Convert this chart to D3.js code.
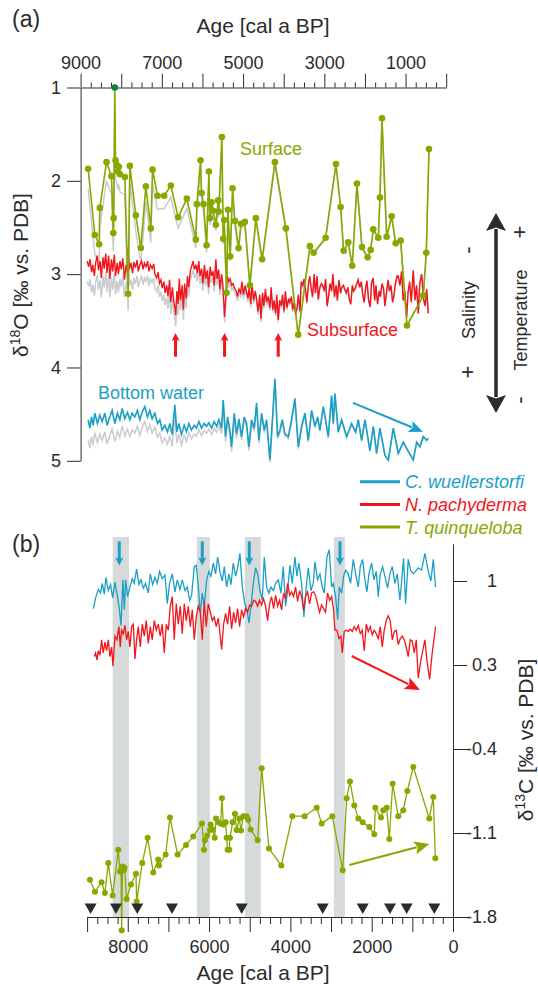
<!DOCTYPE html>
<html>
<head>
<meta charset="utf-8">
<script src="https://cdn.jsdelivr.net/npm/d3@7"></script>
<style>
  body { margin: 0; background: #fff; }
  svg text { font-family: "Liberation Sans", Arial, Helvetica, sans-serif; fill: #2b2b2b; }
</style>
</head>
<body>
<div id="chart"></div>
<script>
// ---- data: [age cal a BP, value] ----
// d18O, T. quinqueloba (surface)
const surfaceO18 = [
  [8815,1.87],[8650,2.58],[8544,2.68],[8527,2.29],[8362,1.80],[8239,1.95],[8195,2.56],[8185,2.40],
  [8158,1.00],[8140,1.78],[8110,1.83],[8085,1.90],[8060,1.85],[8030,1.93],[7911,1.96],[7830,3.21],
  [7788,1.84],[7640,2.37],[7517,2.72],[7394,2.06],[7271,2.51],[7229,1.88],[7106,2.16],[6943,2.16],
  [6778,2.05],[6599,2.39],[6384,2.19],[6163,2.63],[6138,2.25],[6047,1.78],[6022,2.13],[5973,2.25],
  [5899,2.69],[5842,1.90],[5818,2.40],[5776,2.23],[5736,2.32],[5670,2.47],[5613,2.21],[5600,2.33],
  [5522,1.53],[5490,2.62],[5465,2.42],[5406,3.20],[5374,2.31],[5318,2.81],[5259,2.08],[5202,2.43],
  [5111,2.72],[5054,2.46],[4956,2.44],[4833,3.12],[4685,2.40],[4530,2.84],[4217,1.80],[3946,2.51],
  [3643,3.65],[3355,2.70],[3264,2.77],[2968,2.61],[2714,1.82],[2599,2.28],[2525,2.75],[2411,2.66],
  [2313,2.91],[2197,2.03],[2074,2.71],[1934,2.82],[1860,2.74],[1796,2.52],[1672,2.61],[1631,2.18],
  [1581,1.33],[1466,2.60],[1342,2.38],[1244,2.67],[1121,2.64],[966,3.55],[564,3.23],[490,2.77],[424,1.66]
];
// d18O, N. pachyderma (subsurface)
const subsurfaceO18 = [
  [8840,2.86],[8800,2.92],[8770,2.84],[8730,2.98],[8700,2.90],[8660,3.02],[8630,2.88],[8590,2.80],
  [8560,2.96],[8520,2.86],[8490,3.04],[8450,2.82],[8420,2.94],[8380,2.78],[8350,2.99],[8310,2.80],
  [8280,3.05],[8240,2.84],[8210,2.97],[8170,2.79],[8140,3.02],[8100,2.88],[8070,3.00],[8030,2.86],
  [8000,2.95],[7960,2.83],[7920,3.06],[7880,2.90],[7850,2.98],[7830,2.71],[7800,2.95],[7760,2.88],
  [7720,2.99],[7690,2.87],[7650,2.93],[7610,2.85],[7580,2.97],[7540,2.90],[7500,2.86],[7460,2.95],
  [7430,2.88],[7390,2.92],[7350,2.86],[7320,2.97],[7280,2.90],[7240,2.94],[7200,2.89],[7170,3.00],
  [7130,3.04],[7090,2.98],[7060,3.10],[7020,3.06],[6990,3.15],[6950,3.08],[6920,3.20],[6880,3.12],
  [6850,3.24],[6810,3.06],[6780,3.30],[6740,3.14],[6710,3.28],[6680,3.36],[6660,3.44],[6630,3.18],
  [6600,3.32],[6570,3.05],[6540,3.28],[6500,3.12],[6470,3.38],[6440,3.10],[6400,3.26],[6370,3.02],
  [6340,3.14],[6300,2.97],[6270,2.92],[6230,2.86],[6200,2.95],[6160,2.90],[6130,2.99],[6090,2.86],
  [6060,3.02],[6020,2.94],[5990,3.10],[5950,2.90],[5920,3.05],[5880,2.96],[5850,3.14],[5810,2.92],
  [5780,3.02],[5740,2.97],[5710,3.12],[5670,2.84],[5640,3.05],[5600,2.95],[5570,3.16],[5530,3.00],
  [5500,3.10],[5456,3.46],[5420,3.20],[5390,3.02],[5350,3.08],[5320,3.05],[5280,3.12],[5250,3.10],
  [5210,3.15],[5170,3.18],[5140,3.24],[5100,3.16],[5060,3.20],[5030,3.08],[4990,3.22],[4950,3.12],
  [4920,3.18],[4880,3.26],[4850,3.14],[4810,3.32],[4780,3.10],[4740,3.28],[4700,3.18],[4670,3.26],
  [4630,3.40],[4590,3.22],[4560,3.48],[4520,3.20],[4490,3.34],[4450,3.16],[4420,3.30],[4380,3.24],
  [4340,3.36],[4310,3.14],[4270,3.38],[4240,3.28],[4200,3.42],[4170,3.22],[4135,3.49],[4100,3.28],
  [4060,3.34],[4030,3.22],[3990,3.40],[3960,3.18],[3920,3.36],[3880,3.26],[3850,3.30],[3810,3.24],
  [3780,3.38],[3740,3.30],[3710,3.42],[3670,3.36],[3640,3.22],[3600,3.40],[3570,3.08],[3530,3.12],
  [3500,3.05],[3460,3.18],[3430,3.30],[3390,3.10],[3360,3.02],[3320,3.16],[3290,3.24],[3250,3.00],
  [3220,3.20],[3180,3.02],[3150,3.27],[3110,3.14],[3070,3.10],[3040,3.12],[3000,3.18],[2970,3.05],
  [2930,3.34],[2890,3.22],[2860,3.10],[2820,3.18],[2790,3.00],[2750,3.24],[2710,3.12],[2680,3.28],
  [2640,3.06],[2600,3.20],[2570,3.14],[2530,3.12],[2500,3.16],[2460,3.20],[2420,3.14],[2390,3.26],
  [2350,3.32],[2310,3.12],[2280,3.18],[2240,3.15],[2200,3.10],[2170,3.06],[2130,3.14],[2090,3.08],
  [2060,3.20],[2020,3.30],[1980,3.14],[1950,3.07],[1910,3.28],[1870,3.35],[1840,3.10],[1800,3.04],
  [1760,3.28],[1730,3.12],[1690,3.32],[1650,3.18],[1620,3.24],[1580,3.10],[1540,3.16],[1510,3.34],
  [1470,3.20],[1430,3.06],[1400,3.18],[1360,3.12],[1320,3.30],[1290,3.24],[1250,3.10],[1210,3.02],
  [1180,3.02],[1140,3.12],[1097,2.97],[1060,3.28],[1020,3.18],[973,3.46],[940,3.20],[900,3.08],
  [860,3.30],[810,2.96],[770,3.28],[730,3.12],[687,3.42],[650,3.10],[604,3.00],[560,3.26],
  [520,3.34],[480,3.16],[441,3.42]
];
// d18O, C. wuellerstorfi (bottom water)
const bottomO18 = [
  [8814,4.56],[8773,4.65],[8732,4.53],[8691,4.62],[8650,4.49],[8585,4.60],[8527,4.51],[8470,4.58],
  [8404,4.49],[8347,4.62],[8281,4.53],[8224,4.46],[8158,4.60],[8093,4.49],[8035,4.56],[7978,4.44],
  [7912,4.55],[7846,4.48],[7789,4.56],[7732,4.49],[7666,4.53],[7600,4.46],[7543,4.56],[7485,4.48],
  [7419,4.42],[7354,4.53],[7296,4.46],[7239,4.55],[7173,4.49],[7107,4.60],[7050,4.56],[6993,4.67],
  [6927,4.62],[6861,4.69],[6804,4.60],[6746,4.72],[6680,4.40],[6631,4.69],[6582,4.60],[6516,4.72],
  [6450,4.62],[6393,4.69],[6335,4.60],[6270,4.67],[6204,4.62],[6146,4.65],[6089,4.58],[6023,4.65],
  [5957,4.60],[5900,4.63],[5842,4.59],[5776,4.65],[5711,4.58],[5653,4.63],[5596,4.56],[5530,4.65],
  [5489,4.35],[5432,4.74],[5382,4.53],[5325,4.67],[5284,4.85],[5218,4.49],[5161,4.71],[5103,4.55],
  [5037,4.74],[4972,4.53],[4914,4.60],[4857,4.85],[4791,4.56],[4725,4.65],[4668,4.38],[4610,4.78],
  [4545,4.49],[4479,4.67],[4421,4.56],[4339,4.99],[4216,4.12],[4150,4.74],[4093,4.67],[4036,4.56],
  [3970,4.71],[3888,4.74],[3806,4.56],[3724,4.33],[3641,4.85],[3559,4.63],[3477,4.49],[3395,4.78],
  [3313,4.46],[3231,4.63],[3166,4.53],[3108,4.67],[3026,4.42],[2969,4.56],[2903,4.74],[2821,4.30],
  [2780,4.60],[2739,4.28],[2657,4.69],[2575,4.56],[2451,4.74],[2328,4.60],[2230,4.69],[2164,4.56],
  [2082,4.78],[2000,4.56],[1877,4.89],[1795,4.63],[1713,4.92],[1631,4.65],[1508,4.94],[1425,4.99],
  [1302,4.65],[1179,4.92],[1056,4.80],[933,4.90],[810,4.99],[728,4.80],[646,4.85],[564,4.74],
  [482,4.78],[441,4.76]
];
// ice-volume offset between grey (uncorrected) and coloured d18O curves
const iceVolumeOffset = [[9000,0.22],[8000,0.19],[7000,0.14],[6000,0.08],[5000,0.04],[4000,0.025],[3000,0.015],[2000,0.01],[0,0]];

// d13C, C. wuellerstorfi
const wuellC13 = [
  [8848,0.77],[8790,0.86],[8725,0.93],[8668,0.90],[8627,0.98],[8577,0.89],[8536,1.03],[8479,0.92],
  [8422,0.97],[8372,0.86],[8315,0.99],[8258,0.88],[8208,0.77],[8167,0.63],[8118,1.01],[8085,0.76],
  [8053,1.01],[8003,0.87],[7946,0.95],[7889,1.02],[7840,0.98],[7782,1.10],[7725,0.97],[7676,1.01],
  [7618,0.94],[7561,0.98],[7495,0.90],[7446,1.06],[7389,0.97],[7331,1.03],[7274,0.98],[7217,1.08],
  [7151,1.02],[7085,1.05],[7028,0.81],[6971,0.98],[6905,1.06],[6839,0.91],[6782,1.01],[6717,0.93],
  [6659,1.01],[6593,0.92],[6536,0.95],[6479,0.84],[6429,0.88],[6364,1.12],[6315,1.13],[6265,0.95],
  [6216,0.73],[6167,0.90],[6118,0.79],[6060,1.01],[6003,1.08],[5954,1.04],[5897,1.15],[5839,1.06],
  [5790,1.20],[5733,1.08],[5675,1.00],[5626,1.12],[5569,0.95],[5511,1.06],[5462,0.97],[5405,1.15],
  [5347,1.04],[5298,1.11],[5241,1.23],[5183,0.95],[5118,0.81],[5068,0.76],[5019,0.65],[4970,0.79],
  [4913,0.98],[4855,1.11],[4806,1.06],[4749,0.92],[4691,0.84],[4642,1.20],[4585,0.95],[4528,0.90],
  [4478,0.95],[4421,0.92],[4364,0.98],[4298,1.01],[4232,0.90],[4175,1.12],[4117,0.79],[4068,0.92],
  [4011,1.13],[3954,0.98],[3888,1.20],[3839,1.04],[3790,1.15],[3724,0.98],[3667,0.70],[3610,0.95],
  [3560,1.11],[3495,0.92],[3437,0.98],[3396,1.16],[3331,1.01],[3273,1.06],[3216,0.95],[3167,0.90],
  [3101,1.20],[3043,1.26],[2986,0.95],[2945,0.98],[2888,0.87],[2838,0.68],[2797,0.95],[2740,0.90],
  [2691,1.04],[2642,1.09],[2576,1.06],[2519,0.98],[2453,1.18],[2396,1.06],[2330,0.95],[2281,1.12],
  [2224,1.18],[2166,1.01],[2117,0.91],[2068,1.06],[2002,1.15],[1945,1.01],[1888,1.08],[1838,0.87],
  [1789,1.06],[1732,1.12],[1675,1.04],[1609,0.94],[1552,1.06],[1494,1.12],[1429,0.98],[1371,1.06],
  [1306,0.84],[1248,1.06],[1216,1.19],[1166,0.81],[1101,1.18],[1043,1.09],[978,1.06],[920,1.08],
  [855,1.11],[773,1.09],[691,1.23],[609,1.08],[543,1.00],[486,1.18],[429,0.95]
];
// d13C, N. pachyderma
const pachyC13 = [
  [8823,0.37],[8790,0.40],[8758,0.34],[8725,0.42],[8684,0.38],[8643,0.51],[8602,0.40],[8561,0.49],
  [8520,0.42],[8479,0.51],[8438,0.37],[8397,0.45],[8364,0.29],[8315,0.54],[8266,0.51],[8217,0.62],
  [8184,0.45],[8151,0.59],[8110,0.56],[8069,0.63],[8028,0.51],[7987,0.58],[7946,0.45],[7905,0.62],
  [7864,0.64],[7823,0.35],[7782,0.51],[7741,0.62],[7692,0.45],[7643,0.64],[7593,0.54],[7544,0.67],
  [7495,0.48],[7446,0.62],[7397,0.51],[7348,0.67],[7298,0.59],[7249,0.64],[7200,0.54],[7151,0.64],
  [7102,0.40],[7053,0.64],[7003,0.59],[6954,0.79],[6905,0.87],[6856,0.51],[6807,0.81],[6757,0.64],
  [6708,0.79],[6659,0.56],[6610,0.81],[6561,0.67],[6511,0.79],[6462,0.62],[6413,0.76],[6364,0.51],
  [6315,0.70],[6265,0.79],[6216,0.74],[6167,0.51],[6118,0.83],[6069,0.62],[6019,0.81],[5970,0.74],
  [5921,0.67],[5872,0.70],[5823,0.62],[5773,0.69],[5732,0.56],[5691,0.43],[5642,0.64],[5593,0.73],
  [5544,0.64],[5495,0.79],[5446,0.60],[5396,0.74],[5347,0.65],[5298,0.77],[5249,0.62],[5200,0.76],
  [5150,0.70],[5101,0.77],[5052,0.74],[5003,0.80],[4953,0.79],[4904,0.84],[4855,0.83],[4806,0.79],
  [4757,0.84],[4708,0.80],[4659,0.85],[4609,0.79],[4560,0.67],[4511,0.81],[4462,0.87],[4413,0.77],
  [4364,0.88],[4314,0.79],[4265,0.84],[4216,0.76],[4167,0.90],[4117,0.85],[4068,0.98],[4019,0.88],
  [3970,0.91],[3921,0.87],[3872,0.95],[3822,0.83],[3773,0.92],[3724,0.87],[3675,0.76],[3626,0.87],
  [3577,0.91],[3527,0.81],[3478,0.90],[3429,0.91],[3380,0.88],[3331,0.81],[3281,0.74],[3232,0.80],
  [3183,0.77],[3134,0.74],[3085,0.90],[3035,0.84],[2986,0.87],[2937,0.76],[2904,0.59],[2855,0.59],
  [2806,0.52],[2757,0.54],[2724,0.40],[2675,0.58],[2626,0.59],[2576,0.58],[2527,0.60],[2478,0.58],
  [2429,0.62],[2380,0.59],[2330,0.63],[2281,0.56],[2232,0.59],[2183,0.42],[2134,0.64],[2084,0.58],
  [2035,0.62],[1986,0.55],[1937,0.59],[1888,0.56],[1838,0.52],[1789,0.62],[1740,0.45],[1691,0.59],
  [1642,0.67],[1593,0.71],[1544,0.67],[1494,0.51],[1445,0.58],[1396,0.59],[1347,0.47],[1298,0.52],
  [1248,0.54],[1199,0.51],[1150,0.45],[1101,0.37],[1052,0.51],[1002,0.50],[953,0.40],[904,0.51],
  [855,0.19],[814,0.29],[757,0.40],[691,0.51],[642,0.34],[576,0.18],[511,0.40],[429,0.62]
];
// d13C, T. quinqueloba
const quinqC13 = [
  [8930,-1.49],[8807,-1.59],[8643,-1.51],[8561,-1.60],[8479,-1.35],[8372,-1.62],[8233,-1.24],[8192,-1.42],
  [8165,-1.40],[8150,-1.91],[8130,-1.38],[8100,-1.41],[8080,-1.39],[8028,-1.65],[7921,-1.53],[7798,-1.44],
  [7781,-1.67],[7643,-1.35],[7511,-1.14],[7373,-1.43],[7250,-1.32],[7232,-1.37],[7068,-1.28],[6962,-0.97],
  [6773,-1.28],[6568,-1.20],[6388,-1.13],[6175,-1.02],[6125,-1.24],[6101,-1.16],[6044,-1.12],[5978,-1.075],
  [5961,-1.03],[5912,-1.07],[5863,-1.14],[5830,-0.98],[5773,-1.01],[5715,-1.02],[5683,-0.81],[5650,-1.03],
  [5592,-1.01],[5567,-1.14],[5543,-1.24],[5502,-1.24],[5486,-1.14],[5420,-1.01],[5363,-0.94],[5322,-1.075],
  [5257,-0.98],[5215,-1.08],[5158,-0.96],[5076,-0.96],[5035,-0.99],[4977,-1.07],[4805,-1.16],[4706,-0.56],
  [4526,-1.23],[4223,-1.37],[3953,-0.96],[3648,-0.96],[3353,-0.89],[3230,-1.02],[2969,-0.96],[2713,-1.41],
  [2615,-0.81],[2534,-0.67],[2428,-0.87],[2329,-0.98],[2221,-1.01],[2058,-1.05],[1936,-1.11],[1911,-0.89],
  [1771,-0.97],[1715,-0.91],[1631,-0.89],[1567,-1.15],[1484,-0.69],[1346,-0.96],[1223,-0.91],[1124,-0.75],
  [977,-0.55],[583,-0.98],[485,-0.80],[435,-1.31]
];

// cold events (grey bars) and markers
const coldEvents = [[8370,7970],[6300,5980],[5120,4730],[2930,2660]];
const eventArrowAges = [8209, 6167, 5011, 2780];
const o18ArrowAges = [6663, 5456, 4135];
const ageControlPoints = [8913, 8290, 7766, 6913, 5198, 3205, 2221, 1550, 1139, 460];
// trend arrows: [age0, value0, age1, value1]
const bottomTrend = [2296, 4.38, 571, 4.69];
const pachyTrend = [2492, 0.375, 812, 0.092];
const quinqTrend = [2551, -1.367, 583, -1.192];

// ticks and labels
const o18Ticks = [1, 2, 3, 4, 5];
const c13Ticks = [1, 0.3, -0.4, -1.1, -1.8];
const ageMajorTicks = d3.range(0, 9001, 1000);
const ageMinorTicks = d3.range(0, 9001, 250).filter(d => d % 1000 !== 0);
const speciesNames = ["C. wuellerstorfi", "N. pachyderma", "T. quinqueloba"];

const col = { blue: "#1a9fc6", red: "#f2151c", green: "#86a900", gray: "#c9cbcc", band: "#d6dadb", ink: "#2b2b2b", dark: "#137a43" };

const width = 538, height = 985;
const svg = d3.select("#chart").append("svg").attr("width", width).attr("height", height);

// scales
const xTop = d3.scaleLinear().domain([9000, 0]).range([80.6, 446.2]);
const yO18 = d3.scaleLinear().domain([1, 5]).range([87.5, 460.8]);
const xBot = d3.scaleLinear().domain([9000, 0]).range([87.1, 453]);
const yC13 = d3.scaleLinear().domain([1.31, -1.8]).range([543.8, 917]);
const iceOff = d3.scaleLinear().domain(iceVolumeOffset.map(d => d[0])).range(iceVolumeOffset.map(d => d[1]));

function arrow(g, x1, y1, x2, y2, color, w, hl, hw) {
  const a = Math.atan2(y2 - y1, x2 - x1), c = Math.cos(a), s = Math.sin(a);
  const bx = x2 - hl * c, by = y2 - hl * s;
  g.append("line").attr("x1", x1).attr("y1", y1).attr("x2", bx + c * 2).attr("y2", by + s * 2)
    .attr("stroke", color).attr("stroke-width", w);
  const px = -s * hw / 2, py = c * hw / 2;
  const nx = bx + c * hl * 0.2, ny = by + s * hl * 0.2;
  g.append("path").attr("d", `M${x2},${y2}L${bx + px},${by + py}L${nx},${ny}L${bx - px},${by - py}Z`).attr("fill", color);
}

function styleAxis(g, size) {
  g.selectAll("path.domain").attr("stroke", col.ink);
  g.selectAll(".tick line").attr("stroke", col.ink);
  g.selectAll("text").style("font-size", size + "px").attr("fill", col.ink);
}

// ================= panel (a) =================
const pa = svg.append("g");

// top age axis
const topMinor = pa.append("g").attr("transform", `translate(0,${yO18(1)})`)
  .call(d3.axisTop(xTop).tickValues(ageMinorTicks).tickSize(5).tickFormat(""));
topMinor.select(".domain").remove();
styleAxis(topMinor, 18);
const topMajor = pa.append("g").attr("transform", `translate(0,${yO18(1)})`)
  .call(d3.axisTop(xTop).tickValues(ageMajorTicks).tickSize(13.7).tickSizeOuter(0).tickPadding(5)
    .tickFormat(d => d % 2000 === 1000 ? d : ""));
styleAxis(topMajor, 18);

// left d18O axis
const yAx = pa.append("g").attr("transform", `translate(${xTop(9000)},0)`)
  .call(d3.axisLeft(yO18).tickValues(o18Ticks).tickSize(13.6).tickSizeOuter(0).tickPadding(6)
    .tickFormat(d => String(d)));
styleAxis(yAx, 18);

pa.append("text").attr("x", 12).attr("y", 27).style("font-size", "23px").text("(a)");
pa.append("text").attr("x", 263).attr("y", 33).attr("text-anchor", "middle").style("font-size", "21px").text("Age [cal a BP]");

const yT = pa.append("text").attr("transform", "translate(28,275) rotate(-90)").attr("text-anchor", "middle").style("font-size", "21px");
yT.append("tspan").text("δ");
yT.append("tspan").attr("dy", -8).style("font-size", "14px").text("18");
yT.append("tspan").attr("dy", 8).text("O [‰ vs. PDB]");

const lineA = d3.line().x(d => xTop(d[0])).y(d => yO18(d[1]));
const withIce = s => s.map(d => [d[0], d[1] + iceOff(d[0])]);

// grey uncorrected curves
[bottomO18, subsurfaceO18, surfaceO18].forEach(s => {
  pa.append("path").datum(withIce(s)).attr("d", lineA).attr("fill", "none")
    .attr("stroke", col.gray).attr("stroke-width", 1.5);
});
pa.append("path").datum(bottomO18).attr("d", lineA).attr("fill", "none").attr("stroke", col.blue).attr("stroke-width", 1.6);
pa.append("path").datum(subsurfaceO18).attr("d", lineA).attr("fill", "none").attr("stroke", col.red).attr("stroke-width", 1.4);
pa.append("path").datum(surfaceO18).attr("d", lineA).attr("fill", "none").attr("stroke", col.green).attr("stroke-width", 1.6);
pa.selectAll("circle.sf").data(surfaceO18).join("circle").attr("class", "sf")
  .attr("cx", d => xTop(d[0])).attr("cy", d => yO18(d[1])).attr("r", 3.3)
  .attr("fill", d => d[1] <= 1 ? col.dark : col.green);

// curve labels
pa.append("text").attr("x", 240).attr("y", 155).style("font-size", "18px").style("fill", col.green).text("Surface");
pa.append("text").attr("x", 307).attr("y", 336).style("font-size", "18px").style("fill", col.red).text("Subsurface");
pa.append("text").attr("x", 98).attr("y", 399).style("font-size", "18px").style("fill", col.blue).text("Bottom water");

// red arrows
o18ArrowAges.forEach(a => arrow(pa, xTop(a), yO18(3.885), xTop(a), yO18(3.63), col.red, 3, 8, 8));
// bottom-water trend
arrow(pa, xTop(bottomTrend[0]), yO18(bottomTrend[1]), xTop(bottomTrend[2]), yO18(bottomTrend[3]), col.blue, 2, 14, 12);

// salinity / temperature key
arrow(pa, 496, 313, 496, 213, col.ink, 3.5, 18, 20);
arrow(pa, 496, 313, 496, 413, col.ink, 3.5, 18, 20);
const rot = (x, y, t, size) => pa.append("text").attr("transform", `translate(${x},${y}) rotate(-90)`)
  .attr("text-anchor", "middle").style("font-size", size + "px").text(t);
rot(475, 310, "Salinity", 18);
rot(475, 250, "-", 22);
rot(475, 372, "+", 22);
rot(527, 320, "Temperature", 18);
rot(527, 232, "+", 22);
rot(527, 400, "-", 22);

// legend
const legColors = [col.blue, col.red, col.green];
speciesNames.forEach((n, i) => {
  const y = 481.7 + i * 22.7;
  svg.append("line").attr("x1", 360).attr("x2", 400).attr("y1", y).attr("y2", y)
    .attr("stroke", legColors[i]).attr("stroke-width", 3);
  svg.append("text").attr("x", 405).attr("y", y + 6.5).style("font-size", "18px").style("font-style", "italic")
    .style("fill", legColors[i]).text(n);
});

// ================= panel (b) =================
const pb = svg.append("g");
pb.selectAll("rect.ev").data(coldEvents).join("rect").attr("class", "ev")
  .attr("x", d => xBot(d[0])).attr("width", d => xBot(d[1]) - xBot(d[0]))
  .attr("y", 537).attr("height", yC13(-1.8) - 537).attr("fill", col.band);

eventArrowAges.forEach(a => arrow(pb, xBot(a), yC13(1.33), xBot(a), yC13(1.13), col.blue, 3, 8, 8));

const lineB = d3.line().x(d => xBot(d[0])).y(d => yC13(d[1]));
pb.append("path").datum(wuellC13).attr("d", lineB).attr("fill", "none").attr("stroke", col.blue).attr("stroke-width", 1.3);
pb.append("path").datum(pachyC13).attr("d", lineB).attr("fill", "none").attr("stroke", col.red).attr("stroke-width", 1.3);
pb.append("path").datum(quinqC13).attr("d", lineB).attr("fill", "none").attr("stroke", col.green).attr("stroke-width", 1.3);
pb.selectAll("circle.qc").data(quinqC13).join("circle").attr("class", "qc")
  .attr("cx", d => xBot(d[0])).attr("cy", d => yC13(d[1])).attr("r", 3).attr("fill", col.green);

arrow(pb, xBot(pachyTrend[0]), yC13(pachyTrend[1]), xBot(pachyTrend[2]), yC13(pachyTrend[3]), col.red, 2, 15, 13);
arrow(pb, xBot(quinqTrend[0]), yC13(quinqTrend[1]), xBot(quinqTrend[2]), yC13(quinqTrend[3]), col.green, 2, 15, 13);

// age control points
pb.selectAll("path.tri").data(ageControlPoints).join("path").attr("class", "tri")
  .attr("d", d => { const x = xBot(d), y = yC13(-1.8) - 3; return `M${x},${y}L${x - 6},${y - 10.5}L${x + 6},${y - 10.5}Z`; })
  .attr("fill", col.ink);

// bottom age axis
const botMinor = pb.append("g").attr("transform", `translate(0,${yC13(-1.8)})`)
  .call(d3.axisBottom(xBot).tickValues(ageMinorTicks).tickSize(7).tickFormat(""));
botMinor.select(".domain").remove();
styleAxis(botMinor, 18);
const botMajor = pb.append("g").attr("transform", `translate(0,${yC13(-1.8)})`)
  .call(d3.axisBottom(xBot).tickValues(ageMajorTicks).tickSize(15).tickSizeOuter(0).tickPadding(8)
    .tickFormat(d => d % 2000 === 0 ? d : ""));
styleAxis(botMajor, 18);

// right d13C axis
const rAx = pb.append("g").attr("transform", `translate(${xBot(0)},0)`)
  .call(d3.axisRight(yC13).tickValues(c13Ticks).tickSize(14).tickSizeOuter(0).tickFormat(d => String(d)));
styleAxis(rAx, 18);
rAx.selectAll("text").attr("text-anchor", "end").attr("x", 44);

pb.append("text").attr("x", 12).attr("y", 552).style("font-size", "23px").text("(b)");
pb.append("text").attr("x", 263).attr("y", 980).attr("text-anchor", "middle").style("font-size", "21px").text("Age [cal a BP]");
const cT = pb.append("text").attr("transform", "translate(533,740) rotate(-90)").attr("text-anchor", "middle").style("font-size", "21px");
cT.append("tspan").text("δ");
cT.append("tspan").attr("dy", -8).style("font-size", "14px").text("13");
cT.append("tspan").attr("dy", 8).text("C [‰ vs. PDB]");
</script>
</body>
</html>
